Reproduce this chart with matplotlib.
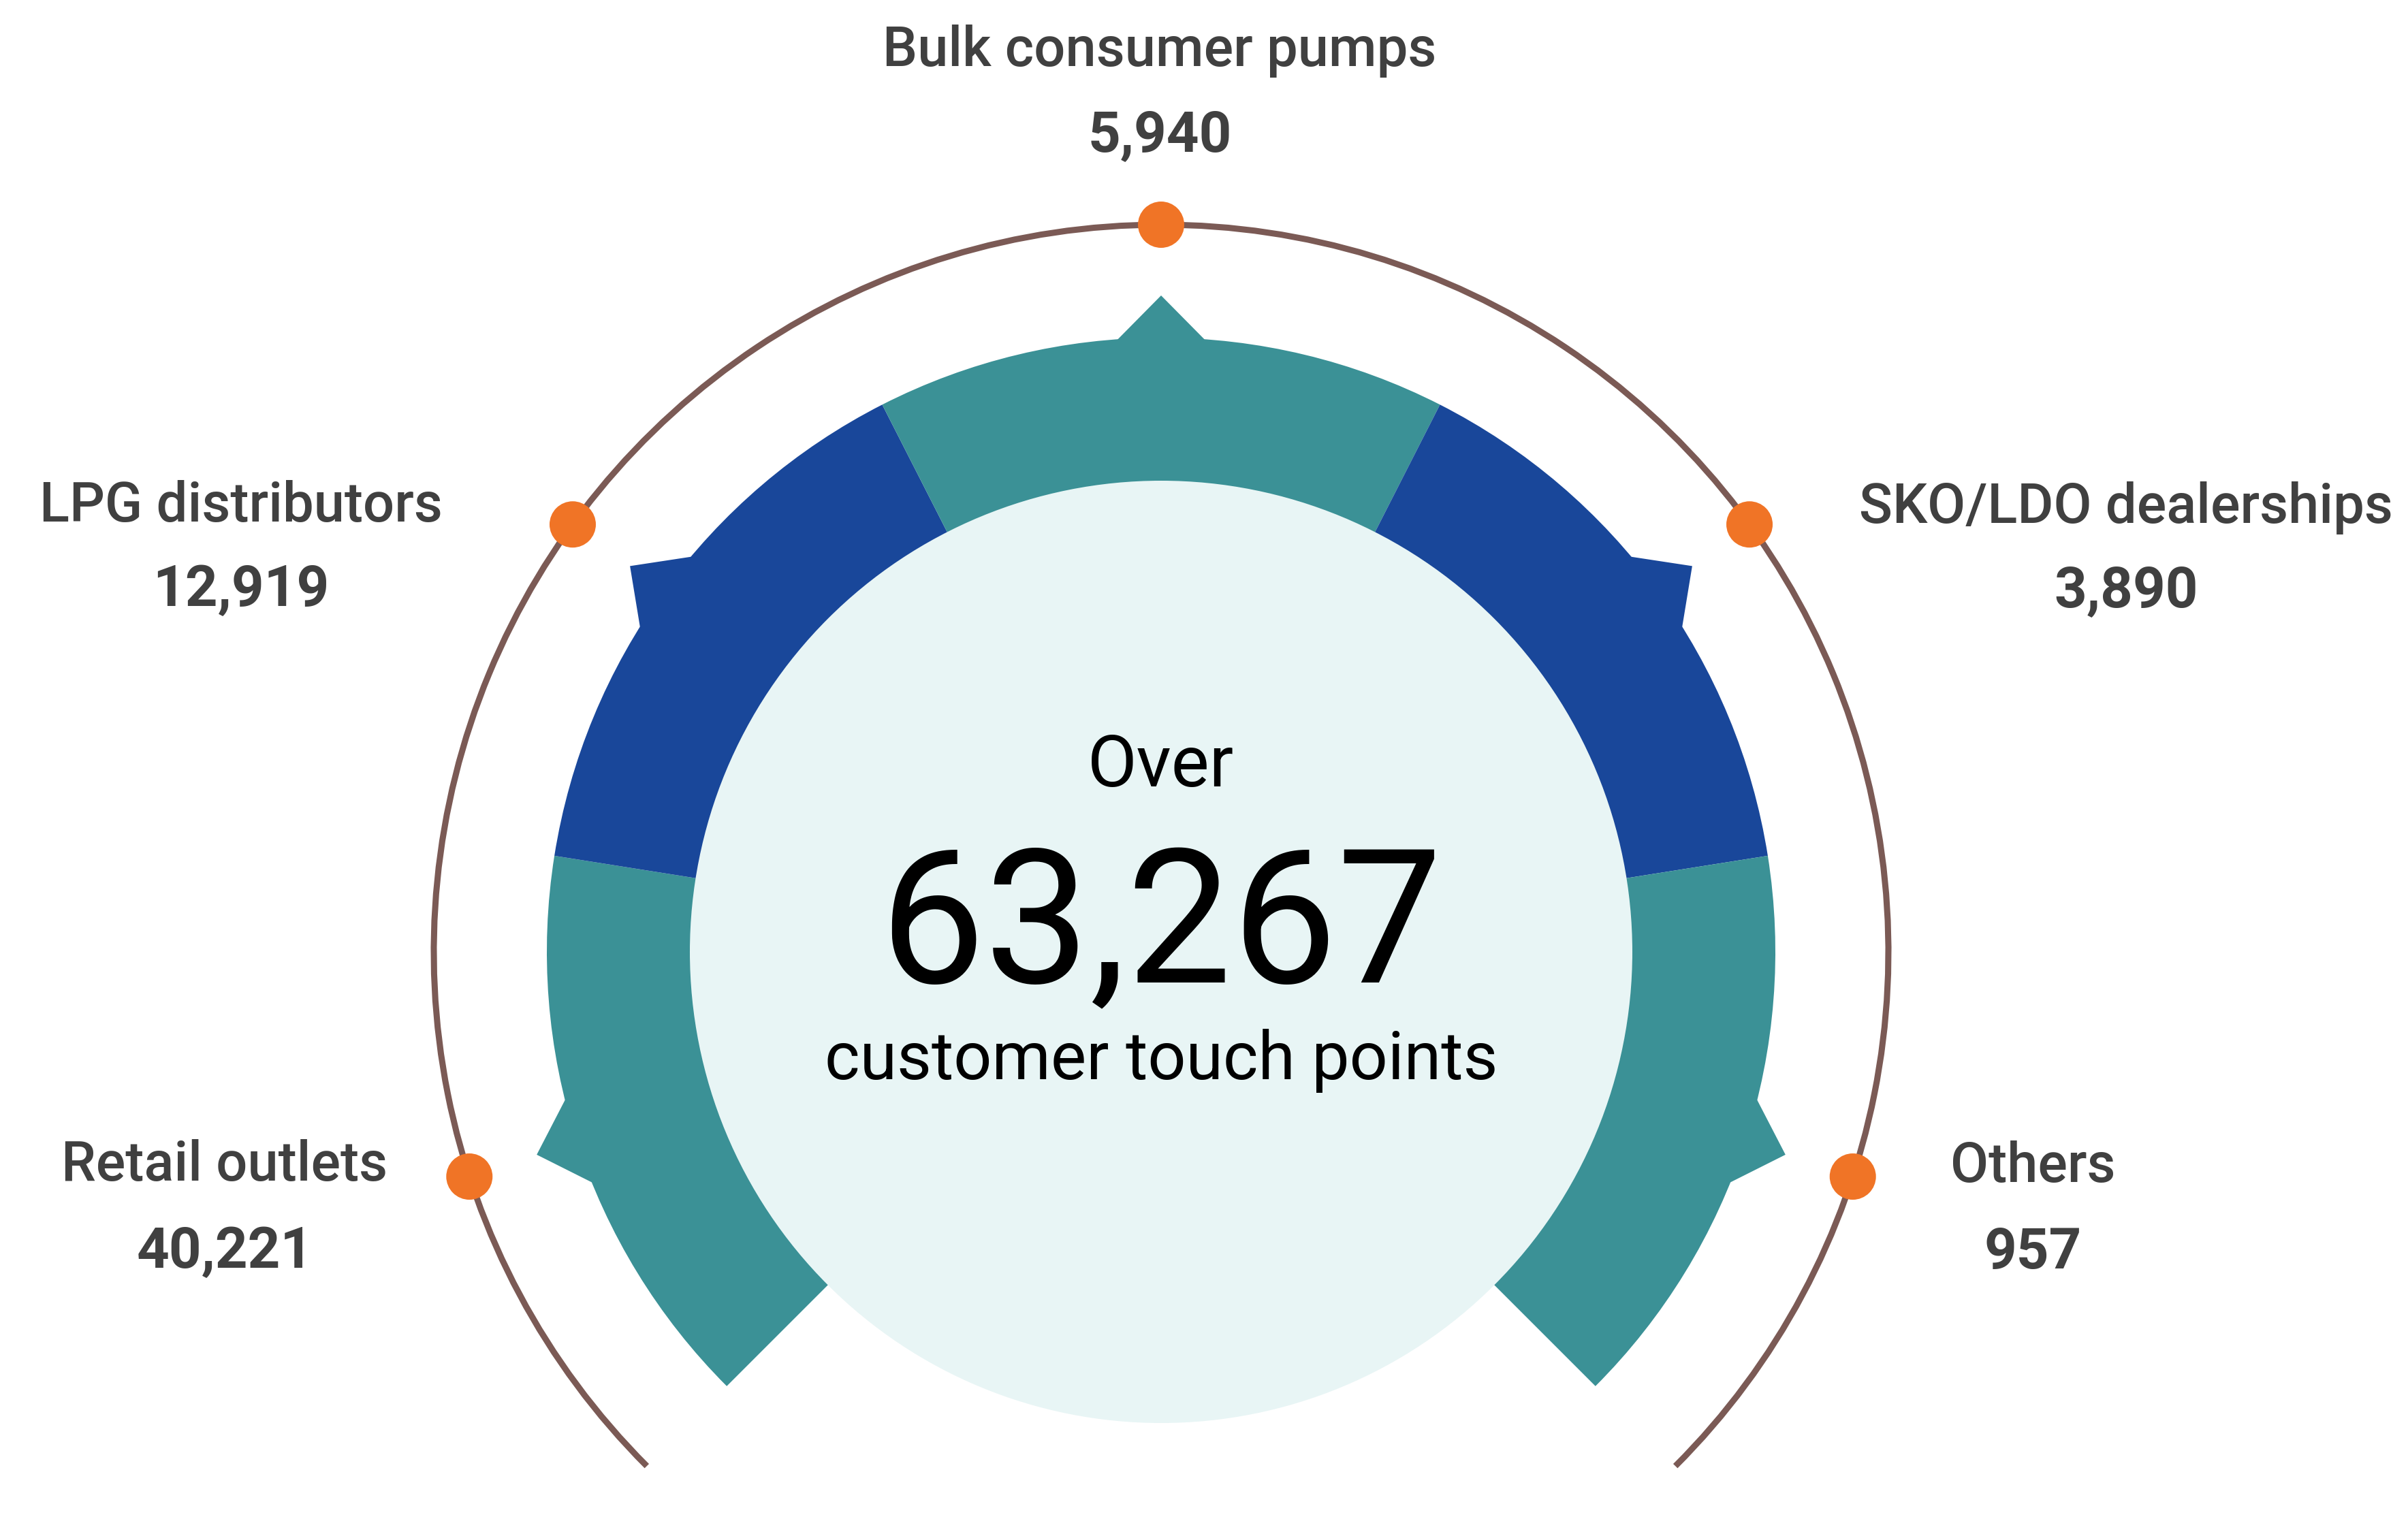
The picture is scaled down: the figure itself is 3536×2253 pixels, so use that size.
import matplotlib
matplotlib.use("Agg")
import matplotlib.pyplot as plt
import numpy as np
from matplotlib.patches import Wedge, Circle, Arc, Polygon

# data
categories = ["Retail outlets", "LPG distributors", "Bulk consumer pumps",
              "SKO/LDO dealerships", "Others"]
counts = ["40,221", "12,919", "5,940", "3,890", "957"]
total_text = "63,267"
seg_colors = ["#3B9196", "#19479A", "#3B9196", "#19479A", "#3B9196"]

# label anchor points (pixels from top-left) for each category
label_x = [330, 354, 1703, 3122, 2985]
name_base_y = [1734, 766, 97, 768, 1736]
value_base_y = [1862, 890, 223, 892, 1863]

W, H = 3536, 2253
CX, CY = 1705, H - 1398
R_IN, R_OUT, R_TIP = 600, 902, 964
R_CIRCLE = 692
R_ARC = 1068
START, SPAN = 225.0, 54.0   # compass degrees, clockwise from top

TEXT = "#404040"


def compass_to_math(a):
    return 90.0 - a


def polar_xy(r, a):
    t = np.deg2rad(compass_to_math(a))
    return CX + r * np.cos(t), CY + r * np.sin(t)


fig = plt.figure(figsize=(W / 100, H / 100), dpi=100)
ax = fig.add_axes([0, 0, 1, 1])
ax.set_xlim(0, W)
ax.set_ylim(0, H)
ax.set_aspect("equal")
ax.axis("off")

for i, color in enumerate(seg_colors):
    a0 = START + SPAN * i
    a1 = a0 + SPAN
    mid = a0 + SPAN / 2
    ax.add_patch(Wedge((CX, CY), R_OUT, compass_to_math(a1), compass_to_math(a0),
                       width=R_OUT - R_IN, facecolor=color, edgecolor="none"))
    # pointed tip in the middle of each segment
    pts = [polar_xy(R_OUT - 5, mid - 4.4), polar_xy(R_TIP, mid), polar_xy(R_OUT - 5, mid + 4.4)]
    ax.add_patch(Polygon(pts, closed=True, facecolor=color, edgecolor="none"))

ax.add_patch(Circle((CX, CY), R_CIRCLE, facecolor="#E8F5F5", edgecolor="none", zorder=3))

ax.add_patch(Arc((CX, CY), 2 * R_ARC, 2 * R_ARC, theta1=compass_to_math(START + 5 * SPAN),
                 theta2=compass_to_math(START), color="#7B5A55", lw=6.5, zorder=4))

for i in range(len(categories)):
    mid = START + SPAN * i + SPAN / 2
    ax.add_patch(Circle(polar_xy(R_ARC, mid), 34, facecolor="#F07426", edgecolor="none", zorder=5))
    ax.text(label_x[i], H - name_base_y[i], categories[i], ha="center", va="baseline",
            fontsize=58.5, color=TEXT, family="Roboto", fontweight="medium")
    ax.text(label_x[i], H - value_base_y[i], counts[i], ha="center", va="baseline",
            fontsize=60, color=TEXT, family="Roboto", fontweight="bold")

ax.text(CX, H - 1155, "Over", ha="center", va="baseline", fontsize=76,
        family="Roboto", color="black", zorder=6)
ax.text(CX, H - 1443, total_text, ha="center", va="baseline", fontsize=198,
        family="Roboto", color="black", zorder=6)
ax.text(CX, H - 1585, "customer touch points", ha="center", va="baseline", fontsize=71,
        family="Roboto", color="black", zorder=6)

fig.savefig("out.png", dpi=100, facecolor="white")
